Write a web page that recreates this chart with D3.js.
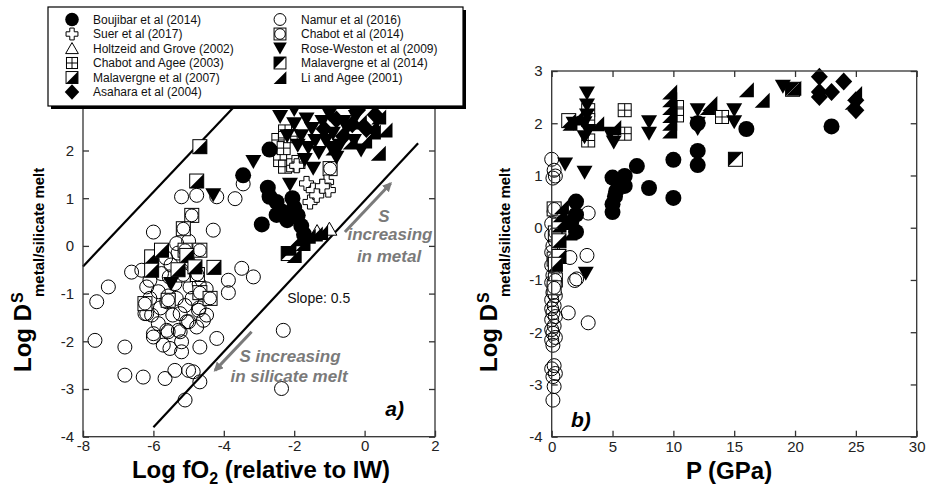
<!DOCTYPE html>
<html>
<head>
<meta charset="utf-8">
<script src="https://cdn.jsdelivr.net/npm/d3@7"></script>
<style>
body{margin:0;background:#fff}
svg text{font-family:Arial,"Liberation Sans",sans-serif}
</style>
</head>
<body>
<svg id="chart" width="929" height="490"></svg>
<script>
// ---- data: [log fO2, log D] for panel a, [P (GPa), log D] for panel b ----
const namurA = [[-5.2,1.03],[-4.77,1.06],[-4.2,1.03],[-3.68,0.99],[-3.45,1.3],[-6.0,0.29],[-4.3,0.33],[-5.34,0.05],[-5.0,0.1],
  [-6.62,-0.55],[-6.33,-0.51],[-7.28,-0.86],[-7.61,-1.17],[-3.49,-0.47],[-3.16,-0.65],[-3.87,-0.72],[-3.87,-0.98],
  [-6.19,-0.86],[-5.86,-0.96],[-5.58,-1.05],[-6.24,-1.42],[-6.05,-1.45],[-5.24,-1.42],[-5.86,-1.63],[-5.62,-1.77],
  [-5.24,-1.8],[-5.0,-1.59],[-4.72,-1.35],[-4.58,-1.56],[-4.77,-1.7],[-5.39,-0.79],[-4.96,-0.86],[-4.7,-0.8],
  [-6.0,-1.84],[-7.66,-1.98],[-4.2,-1.94],[-5.2,-0.51],[-5.77,-0.58],[-6.1,-0.72],[-5.5,-0.4],[-5.65,-0.25],[-5.3,-0.15],
  [-6.81,-2.12],[-6.81,-2.71],[-6.29,-2.75],[-5.67,-2.78],[-5.39,-2.61],[-5.0,-2.61],[-4.87,-2.64],[-4.68,-2.85],
  [-5.1,-3.23],[-4.68,-2.12],[-5.2,-2.01],[-5.2,-2.22],[-5.53,-2.15],[-5.72,-2.08],[-6.0,-1.91],[-5.58,-1.8],
  [-5.29,-1.77],[-5.05,-1.59],[-4.49,-1.45],[-4.7,-1.3],[-6.19,-1.42],[-2.31,-1.77],[-2.36,-2.99],[-5.62,-1.17],
  [-5.35,-1.1],[-5.1,-1.25],[-5.45,-1.45],[-5.8,-1.3],[-6.1,-1.1],[-4.9,-1.1],[-5.55,-0.65],[-5.0,-0.35],[-4.5,-0.9]];
const namurB = [[0,1.31],[0.2,1.1],[0.3,0.99],[0.1,0.95],[0.2,0.31],[0,0.08],[0,-0.14],[0.3,-0.25],[0.1,-0.35],[0,-0.47],
  [0.2,-0.6],[0,-0.72],[0.3,-0.8],[0.1,-0.91],[0,-1.05],[0.2,-1.1],[0.1,-1.24],[0.3,-1.3],[0,-1.38],[0.2,-1.49],
  [0,-1.55],[0.1,-1.63],[0.3,-1.7],[0,-1.76],[0.2,-1.88],[0,-1.95],[0.1,-2.02],[0.3,-2.1],[0,-2.15],[0.1,-2.25],
  [0.2,-2.64],[0,-2.7],[0.3,-2.79],[0.1,-2.85],[0.2,-3.04],[0.1,-3.3],[2.05,-0.98],[2.9,-0.53],[1.5,-0.57],
  [1.36,-1.63],[3.0,-1.82],[3.0,0.28],[1.9,-1.01]];
const chabot14A = [[-4.91,0.64],[-5.15,0.36],[-5.1,-0.09],[-4.68,-0.09],[-5.15,-0.61],[-4.68,-0.98],[-4.39,-1.1],
  [-6.24,-1.21],[-5.58,-1.14],[-4.75,-0.6],[-0.98,1.62]];
const chabot14B = [[0.2,0.36],[0.3,-0.1],[0.2,-0.6],[0.3,-1.0],[0.2,-1.15]];
const chabotAgeeA = [[-2.45,2.22],[-2.26,2.4],[-2.4,1.8],[-2.26,1.66],[-2.03,1.69],[-1.88,1.76],[-2.3,2.05],[-2.1,2.3]];
const chabotAgeeB = [[6,2.25],[6,1.8],[3,2.25],[3,2.06],[3,1.67],[10.3,2.31],[10.3,2.15],[14,2.12]];
const suerA = [[-1.65,1.31],[-1.46,1.17],[-1.55,0.92],[-1.08,1.34],[-1.03,1.17],[-1.36,1.06],[-1.93,1.68],[-1.2,1.25]];
const holtzeidA = [[-1.0,0.35],[-1.35,0.3]];
const malav07A = [[-4.68,2.08],[-4.77,1.36],[-6.05,-0.23],[-5.77,-0.09],[-6.05,-0.51],[-5.05,-0.2],[-4.82,-0.44],[-4.28,-0.45],[-5.3,-0.5]];
const malav07B = [[0.6,0.05],[0.6,-0.25],[0.6,-0.55],[0.3,-0.7],[1.4,2.05]];
const malav14A = [[-2.17,-0.16]];
const malav14B = [[15.1,1.31],[19.8,2.65]];
const boujibarA = [[-3.45,1.48],[-2.7,2.02],[-2.75,1.22],[-2.7,1.03],[-2.5,0.92],[-2.5,0.65],[-2.05,1.0],[-2.0,0.8],
  [-1.9,0.64],[-2.92,0.45],[-2.2,0.54],[-1.8,0.42],[-1.72,0.24],[-2.35,0.72]];
const boujibarB = [[2,0.5],[2,0.25],[2,-0.08],[1.6,0.1],[5,0.96],[5,0.45],[5.2,0.6],[5.3,0.7],[5.5,0.85],[6,0.99],
  [6,0.8],[5,0.3],[7,1.18],[8,0.76],[10,1.3],[10,0.57],[12,1.47],[12,1.2],[12,2.0],[16,1.89],[23,1.94]];
const roseWestonA = [[-3.16,1.76],[-2.12,1.28],[-4.3,1.06],[-5.5,-0.8],[-2.0,2.55],[-1.8,2.3],[-1.6,2.05],[-1.46,1.62],
  [-1.3,1.95],[-1.1,2.2],[-1.5,2.45],[-1.2,2.6],[-0.9,2.35],[-0.7,2.1],[-0.5,2.45],[-0.3,2.2],[-0.1,2.0],[-0.8,1.85],
  [-1.7,1.8],[-2.2,2.3],[-1.0,2.75],[-0.25,2.7],[-1.9,2.1],[-1.4,2.2],[-0.6,2.6],[-1.65,2.65],[-0.95,2.05],
  [-2.4,2.7],[-2.0,2.85]];
const roseWestonB = [[2.9,2.57],[2.9,2.34],[2.9,2.15],[2.7,1.73],[1.8,1.99],[8,2.02],[8,1.8],[4.8,1.8],[5.1,1.63],
  [1.1,1.21],[2.7,1.05],[12,2.25],[12,1.99],[12,1.89],[15,2.25],[15,2.02],[19,2.7],[2.8,-0.88],[2.7,2.0],[3.0,1.85]];
const liAgeeA = [[0.39,1.94],[0.25,2.39],[0.58,2.43],[-0.41,2.18],[0.0,2.2],[-0.15,2.6],[0.4,2.7],[-0.9,2.05],
  [0.2,2.5],[-1.9,0.15],[-1.6,0.2],[-1.4,0.25],[-2.15,-0.05],[-1.75,0.05],[-1.25,0.28],[-2.0,-0.2]];
const liAgeeB = [[3.7,1.99],[5.1,1.92],[9.7,2.6],[9.7,2.45],[9.7,2.3],[9.7,2.15],[9.7,2.0],[9.7,1.85],[12.8,2.3],
  [13,2.38],[16,2.64],[17.3,2.44],[19.9,2.67],[24.9,2.57],[24.7,2.4],[0.7,0.25],[1.2,0.1],[0.8,0.4],[1.5,-0.1],
  [2.0,2.1],[1.5,2.0]];
const asaharaA = [[-0.8,2.65],[-0.35,2.55],[-0.6,2.3],[0.05,2.45],[-1.15,2.45],[-0.2,2.85],[0.3,2.75]];
const asaharaB = [[22,2.89],[22,2.6],[23,2.6],[22,2.5],[24,2.8],[25,2.44],[25,2.25]];

const xTicksA = [-8,-6,-4,-2,0,2];
const xTicksB = [0,5,10,15,20,25,30];
const yTicks = [-4,-3,-2,-1,0,1,2,3];
// slope lines bounding the data in panel a
const upperLine = [[-8,-0.43],[-3.6,3.0]];
const lowerLine = [[-6,-3.8],[1.52,2.15]];

// legend order: [label, shape, panel a data, panel b data]
const series = [
  ['Boujibar et al (2014)','dot',boujibarA,boujibarB],
  ['Suer et al (2017)','plus',suerA,[]],
  ['Holtzeid and Grove (2002)','tri',holtzeidA,[]],
  ['Chabot and Agee (2003)','grid',chabotAgeeA,chabotAgeeB],
  ['Malavergne et al (2007)','half07',malav07A,malav07B],
  ['Asahara et al (2004)','diamond',asaharaA,asaharaB],
  ['Namur et al (2016)','ring',namurA,namurB],
  ['Chabot et al (2014)','sqring',chabot14A,chabot14B],
  ['Rose-Weston et al (2009)','tdown',roseWestonA,roseWestonB],
  ['Malavergne et al (2014)','half14',malav14A,malav14B],
  ['Li and Agee (2001)','wedge',liAgeeA,liAgeeB]
];
const drawOrder = ['ring','sqring','grid','plus','tri','half07','half14','dot','tdown','wedge','diamond'];

const svg = d3.select('#chart');
const INK = '#000';

// marker glyphs, centred on 0,0
const glyph = {
  dot: (g,k) => g.append('circle').attr('r',8*k).attr('fill',INK),
  ring: (g,k) => g.append('circle').attr('r',7*k).attr('fill','none').attr('stroke',INK).attr('stroke-width',1),
  plus: (g,k) => { const a=2.6*k, b=7*k;
    g.append('path').attr('d',`M${-a},${-b}H${a}V${-a}H${b}V${a}H${a}V${b}H${-a}V${a}H${-b}V${-a}H${-a}Z`)
      .attr('fill','#fff').attr('stroke',INK).attr('stroke-width',1); },
  tri: (g,k) => g.append('path').attr('d',`M0,${-7*k}L${7.5*k},${6*k}L${-7.5*k},${6*k}Z`)
      .attr('fill','#fff').attr('stroke',INK).attr('stroke-width',1),
  grid: (g,k) => { const s=6.5*k;
    g.append('rect').attr('x',-s).attr('y',-s).attr('width',2*s).attr('height',2*s).attr('fill','#fff').attr('stroke',INK);
    g.append('path').attr('d',`M0,${-s}V${s}M${-s},0H${s}`).attr('stroke',INK); },
  half07: (g,k) => { const s=7*k;
    g.append('rect').attr('x',-s).attr('y',-s).attr('width',2*s).attr('height',2*s).attr('fill','#fff').attr('stroke',INK);
    g.append('path').attr('d',`M${s},${-s}L${s},${s}L${-s},${s}Z`).attr('fill',INK); },
  half14: (g,k) => { const s=7*k;
    g.append('rect').attr('x',-s).attr('y',-s).attr('width',2*s).attr('height',2*s).attr('fill','#fff').attr('stroke',INK);
    g.append('path').attr('d',`M${-s},${-s}L${s},${-s}L${-s},${s}Z`).attr('fill',INK); },
  sqring: (g,k) => { const s=7*k;
    g.append('rect').attr('x',-s).attr('y',-s).attr('width',2*s).attr('height',2*s).attr('fill','#fff').attr('stroke',INK);
    g.append('circle').attr('r',s-0.6).attr('fill','#fff').attr('stroke',INK); },
  tdown: (g,k) => g.append('path').attr('d',`M${-8*k},${-7*k}H${8*k}L0,${7*k}Z`).attr('fill',INK),
  wedge: (g,k) => g.append('path').attr('d',`M${-7.5*k},${7.5*k}H${7.5*k}V${-7.5*k}Z`).attr('fill',INK),
  diamond: (g,k) => g.append('path').attr('d',`M0,${-9*k}L${8.5*k},0L0,${9*k}L${-8.5*k},0Z`).attr('fill',INK)
};

function plotPanel(x, y, which, xTicks, padX) {
  const [x0,x1] = x.range(), [y0,y1] = y.range();
  const root = svg.append('g');
  const marks = root.append('g');
  drawOrder.forEach(shape => {
    const s = series.find(d => d[1] === shape);
    const pts = which === 'a' ? s[2] : s[3];
    marks.selectAll(null).data(pts).enter().append('g')
      .attr('transform', d => `translate(${x(d[0])},${y(d[1])})`)
      .each(function(){ glyph[shape](d3.select(this), 1); });
  });

  // frame and inward ticks on all sides
  const ax = root.append('g').attr('class','axes');
  ax.append('rect').attr('x',x0).attr('y',y1).attr('width',x1-x0).attr('height',y0-y1)
    .attr('fill','none').attr('stroke','#333').attr('stroke-width',1.3);
  const fmt = d => String(d);
  const style = g => { g.select('.domain').remove();
    g.selectAll('line').attr('stroke','#333').attr('stroke-width',1.3);
    g.selectAll('text').attr('fill','#222').style('font-size','15px').style('font-family','Arial,"Liberation Sans",sans-serif'); };
  ax.append('g').attr('transform',`translate(0,${y0})`)
    .call(d3.axisBottom(x).tickValues(xTicks).tickSize(-6).tickPadding(padX).tickFormat(fmt)).call(style);
  ax.append('g').attr('transform',`translate(0,${y1})`)
    .call(d3.axisTop(x).tickValues(xTicks).tickSize(-6).tickFormat('')).call(style);
  ax.append('g').attr('transform',`translate(${x0},0)`)
    .call(d3.axisLeft(y).tickValues(yTicks).tickSize(-6).tickPadding(9).tickFormat(fmt)).call(style);
  ax.append('g').attr('transform',`translate(${x1},0)`)
    .call(d3.axisRight(y).tickValues(yTicks).tickSize(-6).tickFormat('')).call(style);
  return root;
}

// ---------- panel a ----------
const xA = d3.scaleLinear().domain([-8,2]).range([83,435]);
const yA = d3.scaleLinear().domain([-4,3]).range([436.7,102.8]);
const pa = plotPanel(xA, yA, 'a', xTicksA, 4);

const line = d3.line().x(d => xA(d[0])).y(d => yA(d[1]));
[upperLine, lowerLine].forEach(l => pa.insert('path','g').attr('d', line(l))
  .attr('fill','none').attr('stroke','#000').attr('stroke-width',2.2));

pa.append('text').attr('x', xA(-2.2)).attr('y', yA(-1.2)).text('Slope: 0.5')
  .style('font-size','14px').attr('fill','#111');

// direction arrows
const grey = '#7a7a7a';
svg.append('defs').append('marker').attr('id','head').attr('viewBox','0 0 10 10')
  .attr('refX',8).attr('refY',5).attr('markerWidth',3.2).attr('markerHeight',3.2).attr('orient','auto')
  .append('path').attr('d','M0,0L10,5L0,10Z').attr('fill',grey);
[[[-0.56,0.29],[0.74,1.31]], [[-3.21,-1.8],[-4.25,-2.61]]].forEach(a =>
  pa.append('line').attr('x1',xA(a[0][0])).attr('y1',yA(a[0][1])).attr('x2',xA(a[1][0])).attr('y2',yA(a[1][1]))
    .attr('stroke',grey).attr('stroke-width',3).attr('marker-end','url(#head)'));

const note = (g, x, y, t) => g.append('text').attr('x',x).attr('y',y).attr('text-anchor','middle')
  .style('font-size','17px').style('font-weight','bold').style('font-style','italic').attr('fill',grey).text(t);
note(pa, 384, 222, 'S');
note(pa, 390, 240, 'increasing');
note(pa, 389, 262, 'in metal');
note(pa, 290, 362, 'S increasing');
note(pa, 289, 382, 'in silicate melt');

pa.append('text').attr('x',404).attr('y',416).attr('text-anchor','end')
  .style('font-size','21px').style('font-weight','bold').style('font-style','italic').text('a)');

// ---------- panel b ----------
const xB = d3.scaleLinear().domain([0,30]).range([551.7,916.7]);
const yB = d3.scaleLinear().domain([-4,3]).range([436.7,71]);
const pb = plotPanel(xB, yB, 'b', xTicksB, 5);
pb.append('text').attr('x',571).attr('y',427)
  .style('font-size','21px').style('font-weight','bold').style('font-style','italic').text('b)');

// ---------- axis titles ----------
const title = svg.append('g').style('font-weight','bold').attr('fill','#000');
const xt = title.append('text').attr('x',261).attr('y',478).attr('text-anchor','middle').style('font-size','24px');
xt.append('tspan').text('Log fO');
xt.append('tspan').attr('dy',6).style('font-size','16px').text('2');
xt.append('tspan').attr('dy',-6).text(' (relative to IW)');
title.append('text').attr('x',729).attr('y',479).attr('text-anchor','middle').style('font-size','24px').text('P (GPa)');

[31, 497].forEach(bx => {
  title.append('text').attr('transform',`translate(${bx},372) rotate(-90)`).style('font-size','24px').text('Log D');
  title.append('text').attr('transform',`translate(${bx-8},303) rotate(-90)`).style('font-size','16px').text('S');
  title.append('text').attr('transform',`translate(${bx+13},297) rotate(-90)`).style('font-size','15px').text('metal/silicate melt');
});

// ---------- legend ----------
const lg = svg.append('g');
lg.append('rect').attr('x',51).attr('y',10).attr('width',415).attr('height',99).attr('fill','#000');
lg.append('rect').attr('x',48).attr('y',7).attr('width',415).attr('height',99).attr('fill','#fff')
  .attr('stroke','#000').attr('stroke-width',1.2);
series.forEach((s, i) => {
  const col = i < 6 ? 0 : 1, row = i < 6 ? i : i - 6;
  const mx = col ? 280 : 72, ty = 19.5 + row * 14.5;
  const g = lg.append('g').attr('transform',`translate(${mx},${ty})`);
  glyph[s[1]](g, 0.85);
  lg.append('text').attr('x', mx + 21).attr('y', ty + 4.3).style('font-size','12px').attr('fill','#111').text(s[0]);
});
</script>
</body>
</html>
